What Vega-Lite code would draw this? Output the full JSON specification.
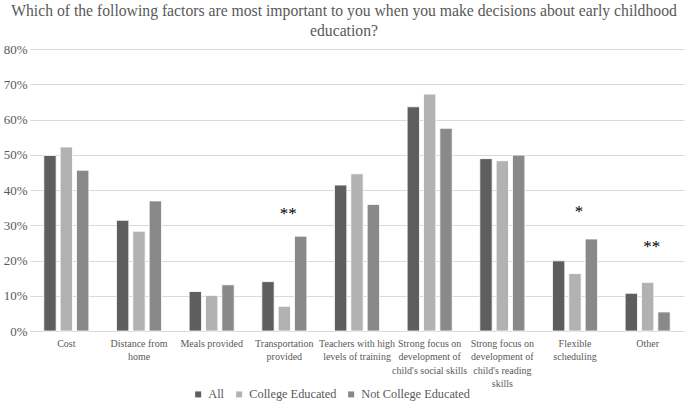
{
  "$schema": "https://vega.github.io/schema/vega-lite/v6.json",
  "width": 654,
  "height": 282,
  "autosize": {"type": "none"},
  "padding": {"left": 30, "top": 49, "right": 1, "bottom": 71},
  "background": "#ffffff",
  "config": {
    "font": "Liberation Serif, serif",
    "view": {"stroke": null}
  },
  "title": {
    "text": ["Which of the following factors are most important to you when you make decisions about early childhood", "education?"],
    "font": "Liberation Serif, serif",
    "fontSize": 15.7,
    "fontWeight": "normal",
    "color": "#595959",
    "lineHeight": 20,
    "anchor": "middle",
    "dx": -13,
    "offset": 3
  },
  "datasets": {
    "bars": [
      {"factor": "Cost", "group": "All", "value": 0.498},
      {"factor": "Cost", "group": "College Educated", "value": 0.522},
      {"factor": "Cost", "group": "Not College Educated", "value": 0.456},
      {"factor": "Distance from home", "group": "All", "value": 0.314},
      {"factor": "Distance from home", "group": "College Educated", "value": 0.283},
      {"factor": "Distance from home", "group": "Not College Educated", "value": 0.369},
      {"factor": "Meals provided", "group": "All", "value": 0.112},
      {"factor": "Meals provided", "group": "College Educated", "value": 0.101},
      {"factor": "Meals provided", "group": "Not College Educated", "value": 0.131},
      {"factor": "Transportation provided", "group": "All", "value": 0.14},
      {"factor": "Transportation provided", "group": "College Educated", "value": 0.07},
      {"factor": "Transportation provided", "group": "Not College Educated", "value": 0.269},
      {"factor": "Teachers with high levels of training", "group": "All", "value": 0.414},
      {"factor": "Teachers with high levels of training", "group": "College Educated", "value": 0.446},
      {"factor": "Teachers with high levels of training", "group": "Not College Educated", "value": 0.359},
      {"factor": "Strong focus on development of child's social skills", "group": "All", "value": 0.636},
      {"factor": "Strong focus on development of child's social skills", "group": "College Educated", "value": 0.672},
      {"factor": "Strong focus on development of child's social skills", "group": "Not College Educated", "value": 0.575},
      {"factor": "Strong focus on development of child's reading skills", "group": "All", "value": 0.489},
      {"factor": "Strong focus on development of child's reading skills", "group": "College Educated", "value": 0.483},
      {"factor": "Strong focus on development of child's reading skills", "group": "Not College Educated", "value": 0.499},
      {"factor": "Flexible scheduling", "group": "All", "value": 0.199},
      {"factor": "Flexible scheduling", "group": "College Educated", "value": 0.163},
      {"factor": "Flexible scheduling", "group": "Not College Educated", "value": 0.261},
      {"factor": "Other", "group": "All", "value": 0.107},
      {"factor": "Other", "group": "College Educated", "value": 0.138},
      {"factor": "Other", "group": "Not College Educated", "value": 0.054}
    ],
    "stars": [
      {"factor": "Transportation provided", "mark": "**", "value": 0.332},
      {"factor": "Flexible scheduling", "mark": "*", "value": 0.337},
      {"factor": "Other", "mark": "**", "value": 0.238}
    ]
  },
  "encoding": {
    "x": {
      "field": "factor",
      "type": "nominal",
      "sort": null,
      "scale": {"paddingInner": 0.38, "paddingOuter": 0.19},
      "axis": {
        "title": null,
        "labelAngle": 0,
        "ticks": false,
        "domain": false,
        "labelFont": "Liberation Serif, serif",
        "labelFontSize": 10,
        "labelColor": "#595959",
        "labelPadding": 7,
        "labelLineHeight": 13.5,
        "labelBaseline": "top",
        "labelLimit": 200,
        "labelExpr": "datum.label == 'Distance from home' ? ['Distance from', 'home'] : datum.label == 'Transportation provided' ? ['Transportation', 'provided'] : datum.label == 'Teachers with high levels of training' ? ['Teachers with high', 'levels of training'] : datum.label == \"Strong focus on development of child's social skills\" ? ['Strong focus on', 'development of', \"child's social skills\"] : datum.label == \"Strong focus on development of child's reading skills\" ? ['Strong focus on', 'development of', \"child's reading\", 'skills'] : datum.label == 'Flexible scheduling' ? ['Flexible', 'scheduling'] : datum.label"
      }
    },
    "y": {
      "field": "value",
      "type": "quantitative",
      "scale": {"domain": [0, 0.8], "nice": false},
      "axis": {
        "title": null,
        "format": ".0%",
        "values": [0, 0.1, 0.2, 0.3, 0.4, 0.5, 0.6, 0.7, 0.8],
        "labelOverlap": false,
        "ticks": false,
        "domain": false,
        "gridColor": "#d9d9d9",
        "gridWidth": 1,
        "labelFont": "Liberation Serif, serif",
        "labelFontSize": 13,
        "labelColor": "#595959",
        "labelPadding": 3
      }
    }
  },
  "layer": [
    {
      "data": {"name": "bars"},
      "mark": {"type": "bar", "stroke": "#ffffff", "strokeWidth": 0.8},
      "encoding": {
        "xOffset": {
          "field": "group",
          "type": "nominal",
          "sort": ["All", "College Educated", "Not College Educated"],
          "scale": {"paddingInner": 0.245, "paddingOuter": 0}
        },
        "color": {
          "field": "group",
          "type": "nominal",
          "sort": ["All", "College Educated", "Not College Educated"],
          "scale": {
            "domain": ["All", "College Educated", "Not College Educated"],
            "range": ["#5e5e5e", "#b2b2b2", "#898989"]
          },
          "legend": {
            "title": null,
            "orient": "none",
            "direction": "horizontal",
            "legendX": 162,
            "legendY": 339,
            "symbolType": "square",
            "symbolSize": 36,
            "symbolStrokeWidth": 0,
            "labelFont": "Liberation Serif, serif",
            "labelFontSize": 12.3,
            "labelColor": "#595959",
            "labelOffset": 4,
            "columnPadding": 8
          }
        }
      }
    },
    {
      "data": {"name": "stars"},
      "mark": {"type": "text", "font": "Liberation Serif, serif", "fontSize": 17, "color": "#000000", "baseline": "middle", "dx": 4},
      "encoding": {
        "text": {"field": "mark"}
      }
    }
  ]
}
